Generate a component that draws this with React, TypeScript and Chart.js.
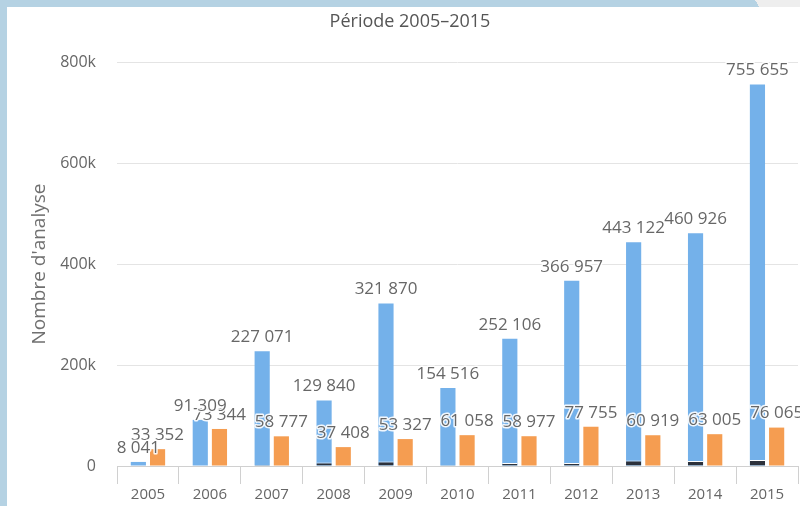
import React, { useEffect, useRef } from "react";
import { Chart, registerables } from "chart.js";

Chart.register(...registerables);

const years = ["2005", "2006", "2007", "2008", "2009", "2010", "2011", "2012", "2013", "2014", "2015"];
const blueValues = [8041, 91309, 227071, 129840, 321870, 154516, 252106, 366957, 443122, 460926, 755655];
const darkValues = [0, 800, 2000, 7000, 9000, 1500, 6000, 6000, 11000, 10000, 12000];
const orangeValues = [33352, 73344, 58777, 37408, 53327, 61058, 58977, 77755, 60919, 63005, 76065];
const yTicks = [0, 200000, 400000, 600000, 800000];

const fmt = (v: number) => String(v).replace(/\B(?=(\d{3})+(?!\d))/g, " ");

const FONT = "'Open Sans', 'DejaVu Sans', sans-serif";

const labelPlugin = {
  id: "valueLabels",
  afterDatasetsDraw(chart: any) {
    const ctx = chart.ctx;
    ctx.save();
    ctx.font = `17px ${FONT}`;
    ctx.textAlign = "center";
    ctx.textBaseline = "middle";
    ctx.lineJoin = "round";
    // orange labels first, blue labels on top
    [2, 1].forEach((di) => {
      const meta = chart.getDatasetMeta(di);
      const data = chart.data.datasets[di].data as number[];
      meta.data.forEach((bar: any, i: number) => {
        const text = fmt(data[i]);
        const y = bar.y - 14;
        ctx.lineWidth = 3;
        ctx.strokeStyle = "rgba(255,255,255,0.9)";
        ctx.strokeText(text, bar.x, y);
        ctx.fillStyle = "#676767";
        ctx.fillText(text, bar.x, y);
      });
    });
    ctx.restore();
  },
};

export default function App() {
  const ref = useRef<HTMLCanvasElement>(null);
  useEffect(() => {
    document.body.style.margin = "0";
    const common = { categoryPercentage: 0.62, barPercentage: 0.79 };
    const chart = new Chart(ref.current!, {
      type: "bar",
      data: {
        labels: years,
        datasets: [
          {
            label: "dark",
            data: darkValues,
            backgroundColor: "#2c313b",
            borderColor: "#ffffff",
            borderWidth: { top: 1, bottom: 0, left: 0, right: 0 },
            borderSkipped: false,
            stack: "a",
            ...common,
          },
          {
            label: "blue",
            data: blueValues,
            backgroundColor: "#74b1ea",
            stack: "a",
            ...common,
          },
          {
            label: "orange",
            data: orangeValues,
            backgroundColor: "#f59d51",
            stack: "b",
            ...common,
          },
        ],
      },
      options: {
        responsive: false,
        animation: false,
        layout: { padding: { left: 15, right: 2, top: 0, bottom: 0 } },
        plugins: {
          legend: { display: false },
          tooltip: { enabled: false },
          title: {
            display: true,
            text: "Période 2005–2015",
            color: "#555",
            font: { family: FONT, size: 18, weight: "normal" },
            padding: { top: 4, bottom: 29.4 },
          },
        },
        scales: {
          x: {
            offset: true,
            grid: {
              offset: true,
              drawOnChartArea: false,
              drawTicks: true,
              tickLength: 18,
              color: "#d0d0d0",
            },
            border: { display: true, color: "#d0d0d0" },
            ticks: {
              color: "#666",
              font: { family: FONT, size: 15 },
              padding: 2,
            },
          },
          y: {
            stacked: false,
            min: 0,
            max: 800000,
            afterBuildTicks(axis: any) {
              axis.ticks = yTicks.map((v) => ({ value: v }));
            },
            afterFit(axis: any) {
              axis.width = 95;
            },
            grid: { color: "#e4e4e4", drawTicks: false },
            border: { display: false },
            ticks: {
              color: "#666",
              font: { family: FONT, size: 16 },
              padding: 21,
              callback: (v: any) => (Number(v) === 0 ? "0" : Number(v) / 1000 + "k"),
            },
            title: {
              display: true,
              text: "Nombre d'analyse",
              color: "#707070",
              font: { family: FONT, size: 19 },
              padding: { top: 6.6, bottom: 0 },
            },
          },
        },
      },
      plugins: [labelPlugin],
    });
    return () => chart.destroy();
  }, []);

  return (
    <div
      style={{
        position: "fixed",
        left: 0,
        top: 0,
        width: 800,
        height: 506,
        background: "#b5d2e3",
        overflow: "hidden",
      }}
    >
      <div
        style={{
          position: "absolute",
          right: 0,
          top: 0,
          width: 50,
          height: 7,
          background: "linear-gradient(60deg, transparent 0 8px, #eeeeee 8px)",
        }}
      />
      <div style={{ position: "absolute", left: 7, top: 7, width: 793, height: 499, background: "#fff" }}>
        <canvas ref={ref} width={793} height={499} style={{ display: "block" }} />
      </div>
    </div>
  );
}
